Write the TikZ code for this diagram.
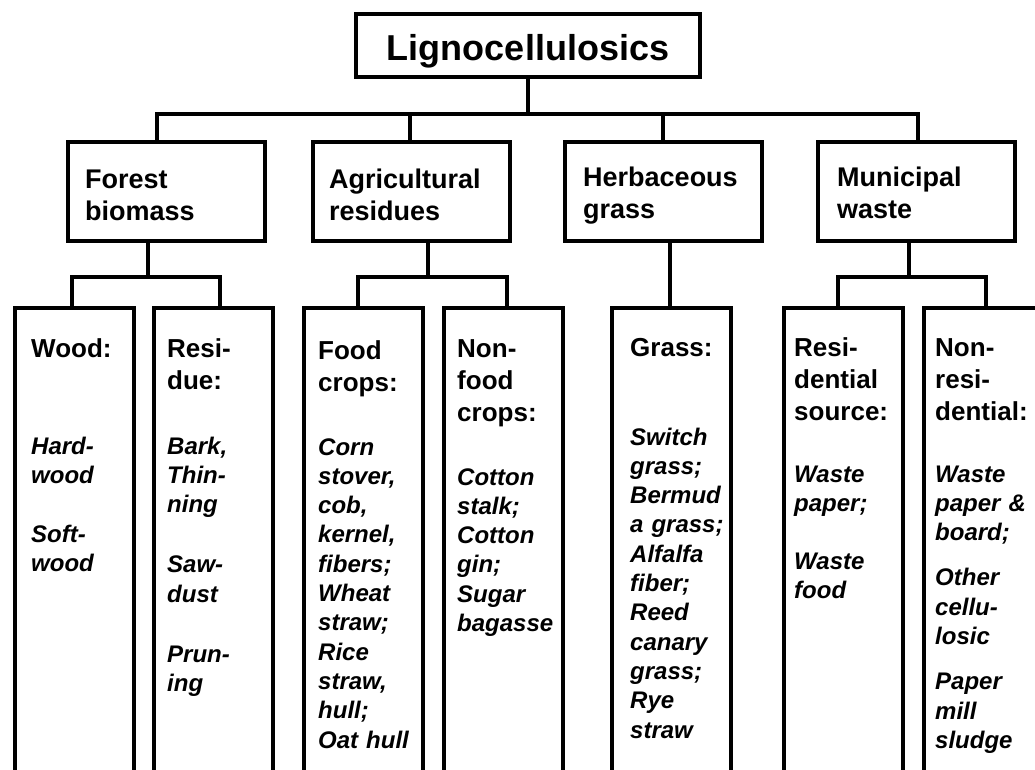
\documentclass[tikz,border=0pt]{standalone}
\usepackage{fontspec}
\setmainfont{Liberation Sans}
\usetikzlibrary{calc}
\begin{document}
\begin{tikzpicture}[x=1pt,y=-1pt,
  box/.style={draw, line width=4pt, inner sep=0pt, outer sep=0pt, anchor=north west},
  catbox/.style={box, minimum width=197pt, minimum height=99pt},
  colbox/.style={box, minimum width=119pt, minimum height=492pt},
  conn/.style={line width=4pt},
  ttl/.style={font=\fontsize{36}{40}\selectfont\bfseries, inner sep=0pt, anchor=base},
  cat/.style={font=\fontsize{27}{32.5}\selectfont\bfseries, align=left, text width=190pt, inner sep=0pt, anchor=base west},
  head/.style={font=\fontsize{26}{32}\selectfont\bfseries, align=left, text width=115pt, inner sep=0pt, anchor=base west},
  item/.style={font=\fontsize{24}{29.3}\selectfont\bfseries\itshape, align=left, text width=115pt, inner sep=0pt, anchor=base west}]
\useasboundingbox (0,0) rectangle (1035,769);
\clip (0,0) rectangle (1035,769);

% level 1
\node[box, minimum width=344pt, minimum height=63pt] (top) at (356,14) {};
\node[ttl] (ttltext) at (528,60) {Lignocellulosics};

% level 2
\node[catbox] (forest) at (68,142) {};
\node[catbox] (agri) at (313,142) {};
\node[catbox] (herb) at (565,142) {};
\node[catbox] (muni) at (818,142) {};
\node[cat] (forestt) at (85,188) {Forest\\biomass};
\node[cat] (agrit) at (329,188) {Agricultural\\residues};
\node[cat] (herbt) at (583,186) {Herbaceous\\grass};
\node[cat] (munit) at (837,186) {Municipal\\waste};

% level 3
\node[colbox] (wood) at (15,308) {};
\node[colbox] (resid) at (154,308) {};
\node[colbox] (food) at (304,308) {};
\node[colbox] (nonfood) at (444,308) {};
\node[colbox] (grass) at (612,308) {};
\node[colbox] (resi) at (784,308) {};
\node[colbox, minimum width=140pt] (nonres) at (924,308) {};

% connectors level 1 -> 2
\draw[conn] (top.south) -- ++(0,37);
\draw[conn] ([xshift=89pt]forest.north west) |- ([xshift=100pt,yshift=28pt]muni.north west) -- ([xshift=100pt]muni.north west);
\draw[conn] ([xshift=97pt]agri.north west) -- ++(0,-28);
\draw[conn] ([xshift=98pt]herb.north west) -- ++(0,-28);

% connectors level 2 -> 3
\draw[conn] ([xshift=80pt]forest.south west) -- ++(0,36);
\draw[conn] ([xshift=57pt]wood.north west) |- ([xshift=66pt,yshift=31pt]resid.north west) -- ([xshift=66pt]resid.north west);
\draw[conn] ([xshift=115pt]agri.south west) -- ++(0,36);
\draw[conn] ([xshift=54pt]food.north west) |- ([xshift=63pt,yshift=31pt]nonfood.north west) -- ([xshift=63pt]nonfood.north west);
\draw[conn] ([xshift=105pt]herb.south west) -- ([xshift=58pt]grass.north west);
\draw[conn] ([xshift=91pt]muni.south west) -- ++(0,36);
\draw[conn] ([xshift=54pt]resi.north west) |- ([xshift=62pt,yshift=31pt]nonres.north west) -- ([xshift=62pt]nonres.north west);

% headings
\node[head] (woodh) at (31,357) {Wood:};
\node[head] (residh) at (167,357) {Resi-\\due:};
\node[head] (foodh) at (318,359) {Food\\crops:};
\node[head] (nonfoodh) at (457,357) {Non-\\food\\crops:};
\node[head] (grassh) at (630,356) {Grass:};
\node[head] (resih) at (794,356) {Resi-\\dential\\source:};
\node[head] (nonresh) at (935,356) {Non-\\resi-\\dential:};

% items
\node[item] (woodi) at (31,454) {Hard-\\wood\\[30pt]Soft-\\wood};
\node[item] (residi) at (167,454) {Bark,\\Thin-\\ning\\[31pt]Saw-\\dust\\[31pt]Prun-\\ing};
\node[item] (foodi) at (318,455) {Corn\\stover,\\cob,\\kernel,\\fibers;\\Wheat\\straw;\\Rice\\straw,\\hull;\\Oat hull};
\node[item] (nonfoodi) at (457,485) {Cotton\\stalk;\\Cotton\\gin;\\Sugar\\bagasse};
\node[item] (grassi) at (630,445) {Switch\\grass;\\Bermud\\a grass;\\Alfalfa\\fiber;\\Reed\\canary\\grass;\\Rye\\straw};
\node[item] (resii) at (794,482) {Waste\\paper;\\[29pt]Waste\\food};
\node[item] (nonresi) at (935,482) {Waste\\paper \&\\board;\\[16pt]Other\\cellu-\\losic\\[16pt]Paper\\mill\\sludge};
\end{tikzpicture}
\end{document}
